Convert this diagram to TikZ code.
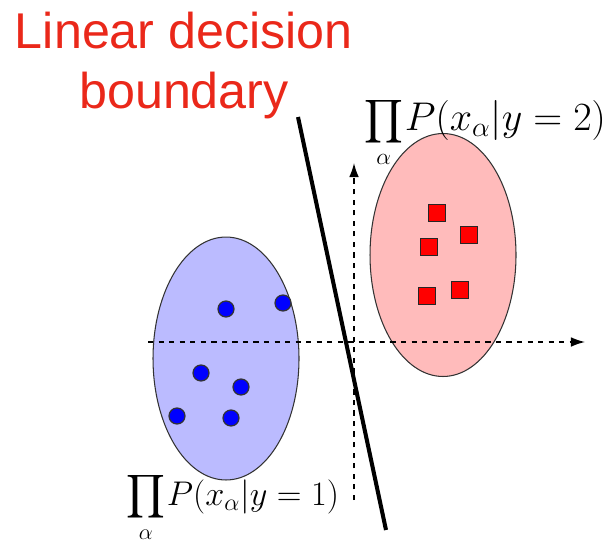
\RequirePackage{fix-cm}
\documentclass[tikz,border=0pt]{standalone}
\usepackage{amsmath}
\usepackage{fontspec}
\newfontfamily\titlefont{Liberation Sans}
\usetikzlibrary{shapes.geometric,arrows.meta}
\definecolor{titlered}{RGB}{234,40,26}
\definecolor{blobblue}{RGB}{187,187,255}
\definecolor{blobred}{RGB}{255,187,187}
\newcommand{\likeprod}[1]{{\fontsize{#1}{#1}\selectfont$\displaystyle\prod_\alpha$}\hspace{1pt}}
\begin{document}
\begin{tikzpicture}[x=0.02cm,y=-0.02cm,
  blob/.style={ellipse,draw=black!80,line width=0.6pt,minimum width=2.92cm,minimum height=4.86cm,inner sep=0pt},
  dot/.style={circle,draw=black!80,fill=blue,line width=0.7pt,minimum size=0.32cm,inner sep=0pt},
  sq/.style={rectangle,draw=black!85,fill=red,line width=0.7pt,minimum size=0.34cm,inner sep=0pt},
  axis/.style={line width=0.8pt,dash pattern=on 3pt off 3pt,-{Latex[length=8pt,width=5.5pt]}}]
\useasboundingbox (0,0) rectangle (607,541);
% class blobs
\node[blob,fill=blobblue] (c1) at (226,358.5) {};
\node[blob,fill=blobred] (c2) at (443,255) {};
% axes
\coordinate (xl) at (148,342);
\coordinate (xr) at (585,342);
\coordinate (yb) at (354,500);
\coordinate (yt) at (354,163);
\draw[axis] (xl)--(xr);
\draw[axis] (yb)--(yt);
% class 1 points
\node[dot] (p1) at (226,309) {};
\node[dot] (p2) at (283,303) {};
\node[dot] (p3) at (201,373) {};
\node[dot] (p4) at (241,387) {};
\node[dot] (p5) at (177,416) {};
\node[dot] (p6) at (231,418) {};
% class 2 points
\node[sq] (q1) at (437,213) {};
\node[sq] (q2) at (469,235) {};
\node[sq] (q3) at (429,247) {};
\node[sq] (q4) at (427,296) {};
\node[sq] (q5) at (460,290) {};
% decision boundary
\coordinate (bt) at (298,117);
\coordinate (bb) at (386,530);
\draw[line width=2.3pt] (bt)--(bb);
% labels
\node[anchor=base,inner sep=0pt,align=center,text=titlered,font=\titlefont\fontsize{28.6}{34}\selectfont] (title) at (184,108) {Linear decision\\boundary};
\node[anchor=base west,inner sep=0pt,font=\fontsize{22.8}{26}\selectfont] (lik2) at (364,130) {\likeprod{19}$P(x_\alpha|y=2)$};
\node[anchor=base west,inner sep=0pt,font=\fontsize{19.5}{23}\selectfont] (lik1) at (126,505) {\likeprod{18}$P(x_\alpha|y=1)$};
\end{tikzpicture}
\end{document}
